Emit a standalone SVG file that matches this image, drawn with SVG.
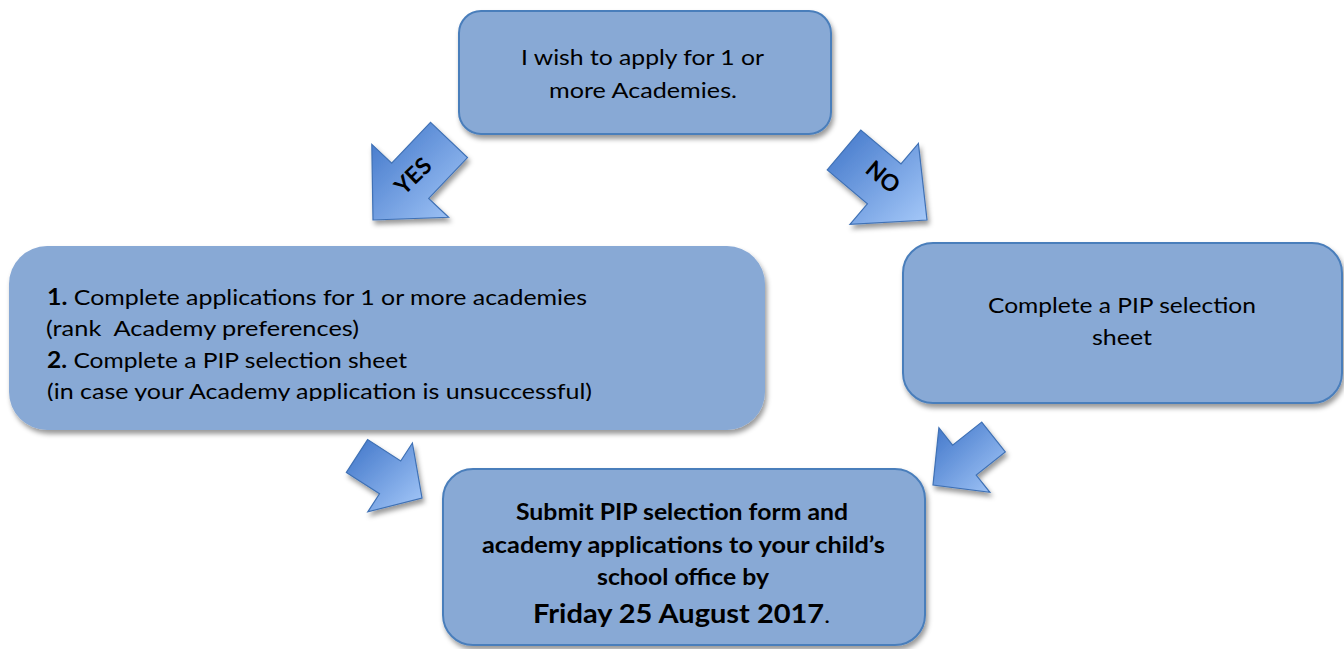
<svg xmlns="http://www.w3.org/2000/svg" width="1344" height="649" viewBox="0 0 1344 649">
<defs>
<style>
.box{fill:#88a9d5;}
.bs{stroke:#4a7ebb;stroke-width:2;}
.t{font-family:Lato,"Liberation Sans",sans-serif;font-size:22px;fill:#000;}
.b{font-weight:bold;}
.arr{fill:url(#ag);stroke:#3f71b5;stroke-width:1.2;stroke-linejoin:miter;}
.al{font-family:Lato,"Liberation Sans",sans-serif;font-size:23px;font-weight:bold;fill:#000;text-anchor:middle;}
</style>
<linearGradient id="ag" x1="0" y1="0" x2="1" y2="1">
<stop offset="0" stop-color="#3e74c8"/>
<stop offset="1" stop-color="#a6c9f9"/>
</linearGradient>
<filter id="sh" x="-10%" y="-10%" width="125%" height="130%">
<feDropShadow dx="2" dy="4" stdDeviation="2.5" flood-color="#000" flood-opacity="0.4"/>
</filter>
<clipPath id="lc"><rect x="9" y="246" width="756" height="155"/></clipPath>
</defs>

<g id="node-top">
<rect class="box bs" x="459" y="11" width="372" height="123" rx="22" filter="url(#sh)"/>
<text class="t" x="521" y="65" textLength="243" lengthAdjust="spacingAndGlyphs">I wish to apply for 1 or</text>
<text class="t" x="549" y="98" textLength="188" lengthAdjust="spacingAndGlyphs">more Academies.</text>
</g>

<g id="node-yes">
<rect class="box" x="9" y="246" width="756" height="184" rx="38" filter="url(#sh)"/>
<g clip-path="url(#lc)">
<text class="t" x="47" y="305" textLength="540" lengthAdjust="spacingAndGlyphs"><tspan class="b">1.</tspan> Complete applications for 1 or more academies</text>
<text class="t" x="46" y="336" textLength="313" lengthAdjust="spacingAndGlyphs" xml:space="preserve" style="white-space:pre">(rank  Academy preferences)</text>
<text class="t" x="47" y="368" textLength="360" lengthAdjust="spacingAndGlyphs"><tspan class="b">2.</tspan> Complete a PIP selection sheet</text>
<text class="t" x="47" y="399" textLength="545" lengthAdjust="spacingAndGlyphs">(in case your Academy application is unsuccessful)</text>
</g>
</g>

<g id="node-no">
<rect class="box bs" x="903" y="243" width="439" height="160" rx="30" filter="url(#sh)"/>
<text class="t" x="988" y="313" textLength="268" lengthAdjust="spacingAndGlyphs">Complete a PIP selection</text>
<text class="t" x="1092" y="345" textLength="60" lengthAdjust="spacingAndGlyphs">sheet</text>
</g>

<g id="node-submit">
<rect class="box bs" x="443" y="469" width="482" height="176" rx="30" filter="url(#sh)"/>
<text class="t b" x="516" y="520" textLength="332" lengthAdjust="spacingAndGlyphs">Submit PIP selection form and</text>
<text class="t b" x="482" y="553" textLength="403" lengthAdjust="spacingAndGlyphs">academy applications to your child’s</text>
<text class="t b" x="597" y="585" textLength="172" lengthAdjust="spacingAndGlyphs">school office by</text>
<text class="t" x="533" y="623" textLength="297" lengthAdjust="spacingAndGlyphs"><tspan class="b" font-size="26">Friday 25 August 2017</tspan>.</text>
</g>

<g id="connectors">
<g id="arrow-yes">
<polygon class="arr" filter="url(#sh)" points="430.5,122.4 391.7,163.2 371.8,144.3 373,220 448.6,217.3 428.7,198.4 467.5,157.6"/>
<text class="al" transform="translate(413,176) rotate(-44)" y="8">YES</text>
</g>
<g id="arrow-no">
<polygon class="arr" filter="url(#sh)" points="827.2,169.9 867.4,203.8 850,224.4 927,220 918.4,143.4 901,164 860.8,130.1"/>
<text class="al" transform="translate(883,177) rotate(40)" y="8">NO</text>
</g>
<g id="arrow-left-submit">
<polygon class="arr" filter="url(#sh)" points="346.4,472.4 379.5,493.8 367.8,511.8 422,498 412.4,443 400.7,461 367.6,439.6"/>
</g>
<g id="arrow-right-submit">
<polygon class="arr" filter="url(#sh)" points="981.7,422.1 952.6,445.2 938.9,427.9 933,485 989.9,492.3 976.2,475 1005.3,451.9"/>
</g>
</g>
</svg>
